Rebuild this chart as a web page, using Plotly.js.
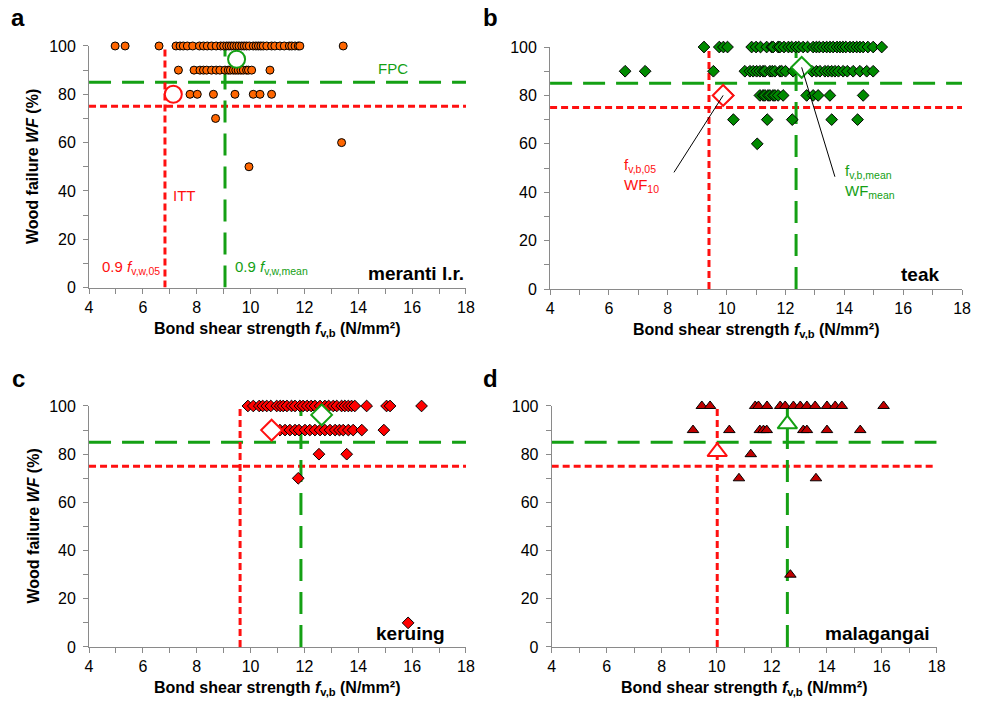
<!DOCTYPE html>
<html>
<head>
<meta charset="utf-8">
<script src="https://cdn.plot.ly/plotly-3.0.1.min.js"></script>
<style>html,body{margin:0;padding:0;background:#fff}#chart{width:986px;height:703px}</style>
</head>
<body>
<div id="chart"></div>
<script>
// ---------- data ----------
// a: meranti l.r.
const meranti_fvb = [4.97,5.34,6.60,7.23,7.38,7.50,7.65,7.85,8.10,8.25,8.39,8.55,8.72,8.89,9.00,9.11,9.20,9.29,9.38,9.48,9.57,9.67,9.76,9.85,9.95,10.10,10.20,10.29,10.38,10.47,10.60,10.78,10.90,11.09,11.25,11.44,11.53,11.65,11.77,11.83,13.44,
  7.32,7.90,8.12,8.25,8.37,8.55,8.72,8.86,9.05,9.17,9.25,9.36,9.45,9.54,9.64,9.73,9.85,9.92,10.04,10.72,
  7.75,8.02,8.62,9.42,10.10,10.35,10.78,
  8.70,13.38,9.94];
const meranti_wf = [100,100,100,100,100,100,100,100,100,100,100,100,100,100,100,100,100,100,100,100,100,100,100,100,100,100,100,100,100,100,100,100,100,100,100,100,100,100,100,100,100,
  90,90,90,90,90,90,90,90,90,90,90,90,90,90,90,90,90,90,90,90,
  80,80,80,80,80,80,80,
  70,60,50];
// b: teak
const teak_fvb = [9.23,9.75,9.89,10.03,10.85,11.00,11.15,11.36,11.53,11.58,11.75,11.81,11.95,12.10,12.21,12.35,12.45,12.60,12.75,12.94,13.05,13.15,13.28,13.40,13.51,13.62,13.75,13.85,13.95,14.05,14.19,14.30,14.42,14.53,14.64,14.80,14.98,15.27,
  6.55,7.23,9.55,10.62,10.79,10.90,11.02,11.13,11.24,11.30,11.47,11.55,11.64,11.81,11.87,12.00,12.26,12.90,13.05,13.17,13.34,13.45,13.57,13.68,13.80,13.96,14.10,14.30,14.53,14.76,14.98,
  10.05,11.13,11.24,11.30,11.41,11.47,11.58,11.64,11.75,11.92,12.72,12.94,13.11,13.51,14.64,
  10.23,11.38,12.23,13.57,14.45,
  11.04];
const teak_wf = [100,100,100,100,100,100,100,100,100,100,100,100,100,100,100,100,100,100,100,100,100,100,100,100,100,100,100,100,100,100,100,100,100,100,100,100,100,100,
  90,90,90,90,90,90,90,90,90,90,90,90,90,90,90,90,90,90,90,90,90,90,90,90,90,90,90,90,90,90,90,
  80,80,80,80,80,80,80,80,80,80,80,80,80,80,80,
  70,70,70,70,70,
  60];
// c: keruing
const keruing_fvb = [9.90,10.10,10.32,10.45,10.60,10.75,10.97,11.10,11.21,11.35,11.52,11.65,11.83,11.95,12.10,12.25,12.39,12.58,12.76,12.90,13.07,13.20,13.38,13.50,13.63,13.75,13.87,14.31,15.05,15.18,16.35,
  11.09,11.28,11.46,11.65,11.80,12.02,12.20,12.39,12.58,12.76,12.95,13.14,13.30,13.44,13.63,13.81,14.13,14.95,
  12.54,13.57,
  11.77,
  15.85];
const keruing_wf = [100,100,100,100,100,100,100,100,100,100,100,100,100,100,100,100,100,100,100,100,100,100,100,100,100,100,100,100,100,100,100,
  90,90,90,90,90,90,90,90,90,90,90,90,90,90,90,90,90,90,
  80,80,
  70,
  10];
// d: malagangai
const malagangai_fvb = [9.46,9.76,11.40,11.52,11.83,12.31,12.49,12.79,13.04,13.28,13.58,14.01,14.31,14.55,16.07,
  9.14,10.46,11.57,11.70,11.82,13.15,13.28,14.01,15.22,
  11.24,
  10.81,13.61,
  12.68];
const malagangai_wf = [100,100,100,100,100,100,100,100,100,100,100,100,100,100,100,
  90,90,90,90,90,90,90,90,90,
  80,
  70,70,
  30];

// characteristic points: [f_v,b,05 / WF10 , f_v,b,mean / WFmean]
const meranti_char_fvb = [7.13, 9.48];   const meranti_char_wf = [80, 94.5];
const teak_char_fvb    = [9.88, 12.55];  const teak_char_wf    = [80, 91.6];
const keruing_char_fvb = [10.78, 12.64]; const keruing_char_wf = [90, 96.3];
const mala_char_fvb    = [10.02, 12.57]; const mala_char_wf    = [81, 92.5];

// threshold lines
const wf_itt = 75, wf_fpc = 85;
const itt_fv = {a: 6.82, b: 9.40, c: 9.61, d: 10.02};
const fpc_fv = {a: 9.05, b: 12.36, c: 11.87, d: 12.57};

const xTickVals = [4,6,8,10,12,14,16,18];
const yTickVals = [0,20,40,60,80,100];

// ---------- styling ----------
const FONT = 'Liberation Sans, Arial, sans-serif';
const RED = '#ff1010', GREEN = '#14a014', AXC = '#8a8a8a';

function xax(domain, anchor) {
  return {domain: domain, anchor: anchor, range: [4, 18], fixedrange: true,
    tickvals: xTickVals, ticks: 'outside', ticklen: 5, tickcolor: AXC, tickwidth: 1,
    showline: true, linecolor: AXC, linewidth: 1, showgrid: false, zeroline: false,
    tickfont: {family: FONT, size: 16, color: '#000'},
    minor: {dtick: 1, ticks: 'outside', ticklen: 5, tickcolor: AXC, showgrid: false}};
}
function yax(domain, anchor) {
  return {domain: domain, anchor: anchor, range: [0, 100], fixedrange: true,
    tickvals: yTickVals, ticks: 'outside', ticklen: 5, tickcolor: AXC, tickwidth: 1,
    showline: true, linecolor: AXC, linewidth: 1, showgrid: false, zeroline: false,
    tickfont: {family: FONT, size: 16, color: '#000'}, ticklabelstandoff: 4,
    minor: {dtick: 10, ticks: 'outside', ticklen: 5, tickcolor: AXC, showgrid: false}};
}

const panels = [
  {xa: 'x', ya: 'y', key: 'a', fvb: meranti_fvb, wf: meranti_wf, sym: 'circle', size: 8, col: '#ff6600',
   cx: meranti_char_fvb, cy: meranti_char_wf, csym: 'circle', csize: 17},
  {xa: 'x2', ya: 'y2', key: 'b', fvb: teak_fvb, wf: teak_wf, sym: 'diamond', size: 9, col: '#008a00',
   cx: teak_char_fvb, cy: teak_char_wf, csym: 'diamond', csize: 16},
  {xa: 'x3', ya: 'y3', key: 'c', fvb: keruing_fvb, wf: keruing_wf, sym: 'diamond', size: 9, col: '#ff0000',
   cx: keruing_char_fvb, cy: keruing_char_wf, csym: 'diamond', csize: 16},
  {xa: 'x4', ya: 'y4', key: 'd', fvb: malagangai_fvb, wf: malagangai_wf, sym: 'triangle-up', size: 10, col: '#c00000',
   cx: mala_char_fvb, cy: mala_char_wf, csym: 'triangle-up', csize: 17}
];

const traces = [];
const shapes = [];
panels.forEach(p => {
  traces.push({type: 'scatter', mode: 'markers', x: p.fvb, y: p.wf, xaxis: p.xa, yaxis: p.ya,
    cliponaxis: false, hoverinfo: 'skip',
    marker: {symbol: p.sym, size: p.size, color: p.col, line: {color: '#000', width: 1}}});
  traces.push({type: 'scatter', mode: 'markers', x: p.cx, y: p.cy, xaxis: p.xa, yaxis: p.ya,
    cliponaxis: false, hoverinfo: 'skip',
    marker: {symbol: p.csym, size: p.csize, color: '#ffffff', line: {color: [RED, GREEN], width: 2}}});
  const redLine = {color: RED, width: 3, dash: '7px,4px'};
  const greenLine = {color: GREEN, width: 3, dash: '22px,11px'};
  shapes.push({type: 'line', xref: p.xa, yref: p.ya, x0: 4, x1: 18, y0: wf_itt, y1: wf_itt, line: redLine, layer: 'below'});
  shapes.push({type: 'line', xref: p.xa, yref: p.ya, x0: 4, x1: 18, y0: wf_fpc, y1: wf_fpc, line: greenLine, layer: 'below'});
  shapes.push({type: 'line', xref: p.xa, yref: p.ya, x0: itt_fv[p.key], x1: itt_fv[p.key], y0: 0, y1: 100, line: redLine, layer: 'below'});
  shapes.push({type: 'line', xref: p.xa, yref: p.ya, x0: fpc_fv[p.key], x1: fpc_fv[p.key], y0: 0, y1: 100, line: greenLine, layer: 'below'});
});
// leader lines in panel b
shapes.push({type: 'line', xref: 'x2', yref: 'y2', x0: teak_char_fvb[0], y0: teak_char_wf[0], x1: 8.21, y1: 48.2, line: {color: '#000', width: 1}});
shapes.push({type: 'line', xref: 'x2', yref: 'y2', x0: teak_char_fvb[1], y0: teak_char_wf[1], x1: 13.68, y1: 46.4, line: {color: '#000', width: 1}});

const xTitle = 'Bond shear strength <i>f</i><sub>v,b</sub> (N/mm²)';
const yTitle = 'Wood failure <i>WF</i> (%)';
function pa(text, x, y, size, opts) {
  return Object.assign({xref: 'paper', yref: 'paper', x: x, y: y, text: text, showarrow: false,
    font: {family: FONT, size: size, color: '#000'}, xanchor: 'center', yanchor: 'middle'}, opts || {});
}
function da(xr, yr, text, x, y, size, color, opts) {
  return Object.assign({xref: xr, yref: yr, x: x, y: y, text: text, showarrow: false,
    font: {family: FONT, size: size, color: color}, xanchor: 'left', yanchor: 'middle'}, opts || {});
}

const annotations = [
  pa('<b>a</b>', 0.0183, 0.9744, 24), pa('<b>b</b>', 0.497, 0.9744, 24),
  pa('<b>c</b>', 0.0183, 0.4623, 24), pa('<b>d</b>', 0.497, 0.4623, 24),
  pa('<b>' + xTitle + '</b>', 0.2814, 0.5306, 16), pa('<b>' + xTitle + '</b>', 0.7667, 0.5292, 16),
  pa('<b>' + xTitle + '</b>', 0.2814, 0.0200, 16), pa('<b>' + xTitle + '</b>', 0.7546, 0.0200, 16),
  pa('<b>' + yTitle + '</b>', 0.0335, 0.7625, 16, {textangle: -90}),
  pa('<b>' + yTitle + '</b>', 0.0335, 0.2511, 16, {textangle: -90}),
  // species
  da('x', 'y', '<b>meranti l.r.</b>', 18, 6.0, 19, '#000', {xanchor: 'right'}),
  da('x2', 'y2', '<b>teak</b>', 17.28, 5.8, 19, '#000', {xanchor: 'right'}),
  da('x3', 'y3', '<b>keruing</b>', 17.29, 5.4, 19, '#000', {xanchor: 'right'}),
  da('x4', 'y4', '<b>malagangai</b>', 17.83, 5.4, 19, '#000', {xanchor: 'right'}),
  // panel a labels
  da('x', 'y', 'FPC', 15.29, 90.5, 15, GREEN, {xanchor: 'center'}),
  da('x', 'y', 'ITT', 7.05, 38.3, 15, RED),
  da('x', 'y', '0.9 <i>f</i><sub>v,w,05</sub>', 4.41, 8.1, 15, RED),
  da('x', 'y', '0.9 <i>f</i><sub>v,w,mean</sub>', 9.36, 8.1, 15, GREEN),
  // panel b labels
  da('x2', 'y2', 'f<sub>v,b,05</sub><br>WF<sub>10</sub>', 6.43, 47.1, 15, RED, {align: 'left'}),
  da('x2', 'y2', 'f<sub>v,b,mean</sub><br>WF<sub>mean</sub>', 13.94, 44.6, 15, GREEN, {align: 'left'})
];

const layout = {
  width: 986, height: 703, margin: {l: 0, r: 0, t: 0, b: 0},
  paper_bgcolor: '#fff', plot_bgcolor: 'rgba(0,0,0,0)', showlegend: false,
  font: {family: FONT},
  xaxis: xax([0.0903, 0.4726], 'y'), yaxis: yax([0.5910, 0.9346], 'x'),
  xaxis2: xax([0.5579, 0.9757], 'y2'), yaxis2: yax([0.5889, 0.9331], 'x2'),
  xaxis3: xax([0.0903, 0.4726], 'y3'), yaxis3: yax([0.0797, 0.4225], 'x3'),
  xaxis4: xax([0.5595, 0.9500], 'y4'), yaxis4: yax([0.0797, 0.4225], 'x4'),
  shapes: shapes, annotations: annotations
};

Plotly.newPlot('chart', traces, layout, {staticPlot: true, displayModeBar: false});
</script>
</body>
</html>
